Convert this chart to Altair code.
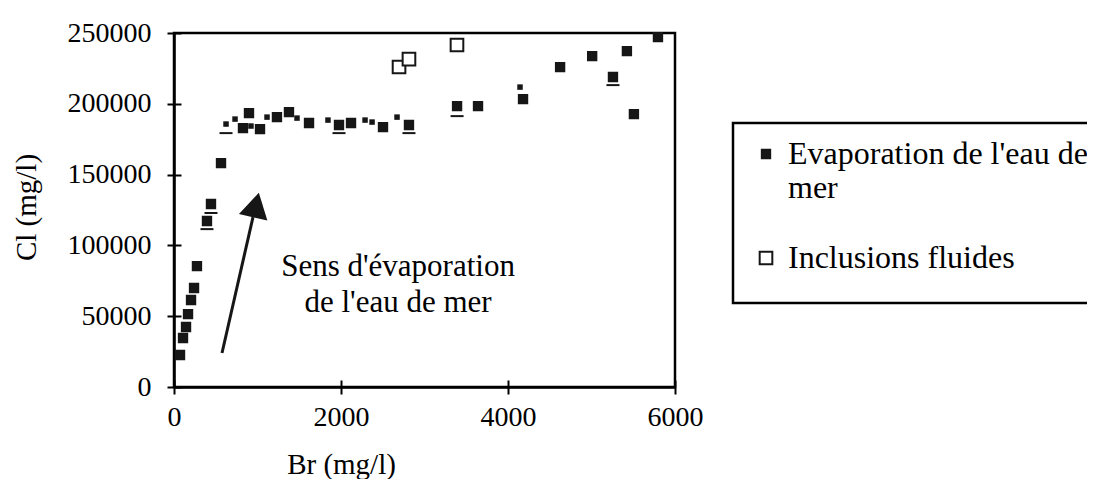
import altair as alt
import pandas as pd

SEA = "Evaporation de l'eau de mer"
FI = "Inclusions fluides"

# Evaporation de l'eau de mer (filled squares)
sea_br = [72, 108, 144, 168, 204, 240, 275, 395, 443, 563, 826, 898, 1030, 1233, 1377,
          1617, 1976, 2120, 2503, 2814, 3390, 3641, 4180, 4624, 5008, 5257, 5424, 5508, 5796]
sea_cl = [22600, 34600, 42400, 51500, 61400, 69900, 85400, 117200, 129200, 158100, 182800,
          193400, 182100, 190600, 194100, 186400, 185000, 186400, 183500, 185000, 198400,
          198400, 203300, 225900, 233700, 218900, 237200, 192700, 247100]

# Inclusions fluides (open squares)
fi_br = [2695, 2814, 3389]
fi_cl = [226000, 231600, 241500]

# partially printed markers on the plateau
frag_br = [623, 731, 922, 1114, 1473, 1844, 2288, 2372, 2671, 4144]
frag_cl = [185700, 189200, 184300, 190600, 189900, 188500, 188500, 187100, 190600, 211800]

# short underlines below some markers
ul_br = [395, 443, 623, 1976, 2814, 3390, 5257]
ul_cl = [111500, 122800, 179300, 179300, 179300, 191300, 213200]

# arrow (shaft from/to, head position)
arrow_br = [575, 946]
arrow_cl = [24000, 120000]
head_br = [982]
head_cl = [128500]

ann_lines = ["Sens d'évaporation", "de l'eau de mer"]
ann_br = [2683]
ann_cl = [84700]

x_ticks = [0, 2000, 4000, 6000]
y_ticks = [0, 50000, 100000, 150000, 200000, 250000]

FONT = "Liberation Serif"
INK = "#161616"

main = pd.DataFrame({
    "br": sea_br + fi_br,
    "cl": sea_cl + fi_cl,
    "series": [SEA] * len(sea_br) + [FI] * len(fi_br),
})
frag = pd.DataFrame({"br": frag_br, "cl": frag_cl})
ul = pd.DataFrame({"br": ul_br, "cl": ul_cl})
arrow = pd.DataFrame({"br": arrow_br, "cl": arrow_cl})
head = pd.DataFrame({"br": head_br, "cl": head_cl})
ann = pd.DataFrame({"br": ann_br, "cl": ann_cl, "t": [ann_lines]})

xs = alt.Scale(domain=[0, 6000], nice=False, zero=False)
ys = alt.Scale(domain=[0, 250000], nice=False, zero=False)

x_axis = alt.Axis(values=x_ticks, format="d", title="Br (mg/l)", grid=False,
                  tickSize=7, labelPadding=9, labelFlush=False, titleX=167, titleY=77,
                  titleAlign="center", titleBaseline="middle",
                  labelFont=FONT, labelFontSize=28, titleFont=FONT, titleFontSize=29)
y_axis = alt.Axis(values=y_ticks, format="d", title="Cl (mg/l)", grid=False,
                  tickSize=7, labelPadding=16, labelFlush=False, titleX=-148, titleY=174,
                  titleAlign="center", titleBaseline="middle", titleAngle=270,
                  labelFont=FONT, labelFontSize=28, titleFont=FONT, titleFontSize=29)

legend = alt.Legend(
    orient="none", legendX=559, legendY=90, title=" ", titleOrient="bottom",
    titleFontSize=12, titlePadding=3,
    strokeColor="black", padding=15, symbolOffset=2, labelOffset=6,
    rowPadding=38, labelLimit=600, symbolType="square",
    symbolStrokeColor=INK, symbolStrokeWidth=2,
    labelFont=FONT, labelFontSize=32, labelColor="black",
    labelExpr="datum.label == 'Inclusions fluides' ? datum.label : [\"Evaporation de l'eau de\", 'mer']",
)

dom = [SEA, FI]
points = alt.Chart(main).mark_point(shape="square", filled=True,
                                    strokeWidth=2, opacity=1).encode(
    x=alt.X("br:Q", scale=xs, axis=x_axis),
    y=alt.Y("cl:Q", scale=ys, axis=y_axis),
    fill=alt.Fill("series:N", scale=alt.Scale(domain=dom, range=[INK, "#ffffff"]),
                  legend=legend),
    stroke=alt.Stroke("series:N", scale=alt.Scale(domain=dom, range=[INK, INK]),
                      legend=legend),
    size=alt.Size("series:N", scale=alt.Scale(domain=dom, range=[70, 160]),
                  legend=legend),
)

frags = alt.Chart(frag).mark_point(shape="square", filled=True, color=INK,
                                   size=30, opacity=1).encode(
    x=alt.X("br:Q", scale=xs, axis=None),
    y=alt.Y("cl:Q", scale=ys, axis=None),
)

inner_x = alt.Axis(orient="top", offset=-354, values=x_ticks, labels=False,
                   domain=False, grid=False, tickSize=7, title=None)
inner_y = alt.Axis(orient="right", offset=-501, values=y_ticks, labels=False,
                   domain=False, grid=False, tickSize=7, title=None)

unders = alt.Chart(ul).mark_tick(orient="horizontal", color=INK, size=13,
                                 thickness=2, opacity=1).encode(
    x=alt.X("br:Q", scale=xs, axis=inner_x),
    y=alt.Y("cl:Q", scale=ys, axis=inner_y),
)

shaft = alt.Chart(arrow).mark_line(color=INK, strokeWidth=3).encode(
    x=alt.X("br:Q", scale=xs, axis=None),
    y=alt.Y("cl:Q", scale=ys, axis=None),
)

tip = alt.Chart(head).mark_point(shape="triangle-up", filled=True, color=INK,
                                 size=850, angle=13, opacity=1).encode(
    x=alt.X("br:Q", scale=xs, axis=None),
    y=alt.Y("cl:Q", scale=ys, axis=None),
)

text = alt.Chart(ann).mark_text(font=FONT, fontSize=31, lineHeight=36, color="black",
                                align="center", baseline="middle").encode(
    x=alt.X("br:Q", scale=xs, axis=None),
    y=alt.Y("cl:Q", scale=ys, axis=None),
    text="t",
)

chart = alt.layer(points, frags, unders, shaft, tip, text).resolve_axis(
    x="independent", y="independent"
).properties(
    width=501, height=354,
    autosize=alt.AutoSizeParams(type="none"),
    padding={"left": 166, "top": 25, "right": 412, "bottom": 92},
).configure_view(
    stroke="black", strokeWidth=2.5,
).configure_axis(
    labelFont=FONT, labelFontSize=28, labelColor="black",
    titleFont=FONT, titleFontSize=29, titleFontWeight="normal", titleColor="black",
    domainColor="black", domainWidth=2.5, tickColor="black", tickWidth=2,
).configure_legend(
    labelFont=FONT, labelFontSize=32, labelColor="black", strokeWidth=2.5,
)

chart.save("out.html", embed_options={"renderer": "svg", "actions": False})
